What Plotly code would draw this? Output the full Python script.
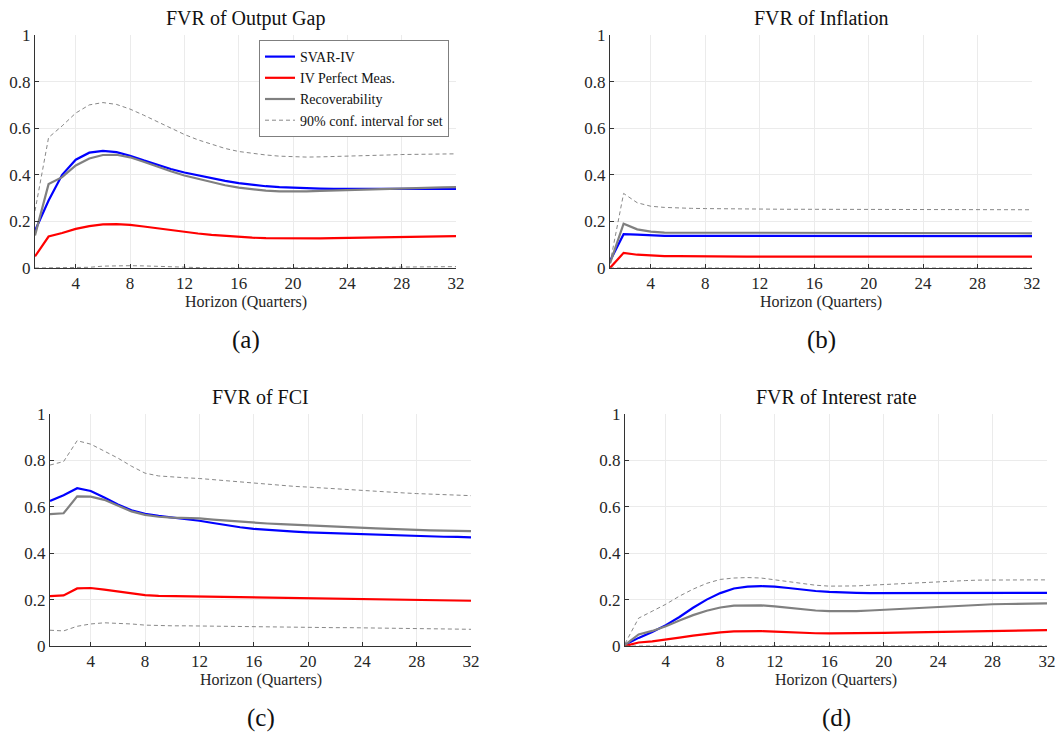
import plotly.graph_objects as go

horizon = list(range(1, 33))
x_ticks = [4, 8, 12, 16, 20, 24, 28, 32]
y_ticks = [0, 0.2, 0.4, 0.6, 0.8, 1]
y_ticktext = ["0", "0.2", "0.4", "0.6", "0.8", "1"]

series_names = ["SVAR-IV", "IV Perfect Meas.", "Recoverability", "90% conf. interval for set"]
panel_titles = ["FVR of Output Gap", "FVR of Inflation", "FVR of FCI", "FVR of Interest rate"]
panel_labels = ["(a)", "(b)", "(c)", "(d)"]
x_title = "Horizon (Quarters)"

# Panel (a) Output gap
a_svar = [0.160, 0.290, 0.400, 0.465, 0.495, 0.503, 0.497, 0.482, 0.462, 0.442, 0.425, 0.410, 0.397, 0.385, 0.374, 0.364,
          0.357, 0.351, 0.347, 0.344, 0.342, 0.341, 0.340, 0.340, 0.340, 0.340, 0.340, 0.340, 0.340, 0.340, 0.340, 0.340]
a_perfect = [0.050, 0.135, 0.150, 0.168, 0.180, 0.187, 0.188, 0.185, 0.178, 0.170, 0.162, 0.155, 0.148, 0.142, 0.137, 0.133,
             0.130, 0.128, 0.127, 0.126, 0.126, 0.127, 0.128, 0.129, 0.130, 0.131, 0.133, 0.134, 0.135, 0.136, 0.136, 0.137]
a_recov = [0.140, 0.360, 0.390, 0.440, 0.470, 0.485, 0.486, 0.475, 0.456, 0.435, 0.415, 0.397, 0.382, 0.368, 0.355, 0.345,
           0.337, 0.332, 0.329, 0.328, 0.329, 0.331, 0.333, 0.335, 0.337, 0.339, 0.341, 0.343, 0.344, 0.345, 0.346, 0.347]
a_upper = [0.245, 0.560, 0.610, 0.665, 0.700, 0.710, 0.702, 0.682, 0.656, 0.628, 0.600, 0.573, 0.550, 0.530, 0.513, 0.500,
           0.492, 0.485, 0.480, 0.477, 0.476, 0.477, 0.478, 0.479, 0.481, 0.483, 0.485, 0.487, 0.488, 0.489, 0.490, 0.490]
a_lower = [0.000, 0.000, 0.000, 0.000, 0.003, 0.008, 0.010, 0.010, 0.009, 0.007, 0.004, 0.002, 0.001, 0.000, 0.000, 0.000,
           0.000, 0.000, 0.000, 0.000, 0.000, 0.000, 0.000, 0.000, 0.000, 0.001, 0.002, 0.004, 0.005, 0.005, 0.006, 0.006]

# Panel (b) Inflation
b_svar = [0.030, 0.145, 0.143, 0.139, 0.138, 0.138, 0.138, 0.137, 0.137, 0.137, 0.137, 0.137, 0.137, 0.137, 0.137, 0.137,
          0.137, 0.137, 0.137, 0.137, 0.137, 0.137, 0.137, 0.137, 0.137, 0.137, 0.137, 0.137, 0.137, 0.137, 0.137, 0.137]
b_perfect = [0.000, 0.065, 0.057, 0.053, 0.051, 0.051, 0.050, 0.050, 0.049, 0.049, 0.049, 0.049, 0.049, 0.049, 0.049, 0.049,
             0.049, 0.049, 0.049, 0.049, 0.049, 0.049, 0.049, 0.049, 0.049, 0.049, 0.049, 0.049, 0.049, 0.049, 0.049, 0.049]
b_recov = [0.020, 0.190, 0.166, 0.156, 0.152, 0.152, 0.152, 0.151, 0.151, 0.150, 0.150, 0.150, 0.150, 0.150, 0.150, 0.150,
           0.150, 0.150, 0.150, 0.150, 0.150, 0.150, 0.150, 0.150, 0.150, 0.150, 0.150, 0.150, 0.150, 0.150, 0.150, 0.149]
b_upper = [0.020, 0.320, 0.280, 0.265, 0.260, 0.257, 0.256, 0.255, 0.254, 0.254, 0.253, 0.253, 0.253, 0.252, 0.252, 0.252,
           0.252, 0.252, 0.251, 0.251, 0.251, 0.251, 0.251, 0.251, 0.251, 0.250, 0.250, 0.250, 0.250, 0.250, 0.250, 0.250]
b_lower = [0.000, 0.000, 0.000, 0.000, 0.000, 0.000, 0.000, 0.000, 0.000, 0.000, 0.000, 0.000, 0.000, 0.000, 0.000, 0.000,
           0.000, 0.000, 0.000, 0.000, 0.000, 0.000, 0.000, 0.000, 0.000, 0.000, 0.000, 0.000, 0.000, 0.000, 0.000, 0.000]

# Panel (c) FCI
c_svar = [0.625, 0.650, 0.680, 0.668, 0.640, 0.610, 0.585, 0.570, 0.561, 0.555, 0.549, 0.540, 0.530, 0.520, 0.512, 0.505,
          0.500, 0.496, 0.493, 0.490, 0.488, 0.485, 0.482, 0.480, 0.478, 0.477, 0.475, 0.474, 0.472, 0.471, 0.470, 0.468]
c_perfect = [0.215, 0.218, 0.248, 0.250, 0.243, 0.234, 0.225, 0.219, 0.216, 0.215, 0.215, 0.215, 0.214, 0.213, 0.211, 0.210,
             0.209, 0.208, 0.207, 0.205, 0.204, 0.203, 0.203, 0.202, 0.201, 0.200, 0.199, 0.198, 0.197, 0.196, 0.196, 0.195]
c_recov = [0.568, 0.572, 0.645, 0.644, 0.630, 0.605, 0.580, 0.565, 0.557, 0.553, 0.552, 0.550, 0.545, 0.540, 0.536, 0.532,
           0.528, 0.525, 0.522, 0.520, 0.517, 0.515, 0.512, 0.510, 0.507, 0.505, 0.502, 0.500, 0.498, 0.497, 0.496, 0.495]
c_upper = [0.780, 0.795, 0.885, 0.870, 0.840, 0.810, 0.775, 0.745, 0.733, 0.728, 0.725, 0.722, 0.717, 0.711, 0.706, 0.700,
           0.696, 0.692, 0.688, 0.685, 0.681, 0.677, 0.673, 0.670, 0.667, 0.664, 0.660, 0.657, 0.655, 0.652, 0.650, 0.648]
c_lower = [0.068, 0.065, 0.085, 0.095, 0.100, 0.098, 0.095, 0.090, 0.087, 0.087, 0.087, 0.086, 0.085, 0.084, 0.084, 0.083,
           0.082, 0.082, 0.081, 0.080, 0.080, 0.079, 0.079, 0.078, 0.077, 0.077, 0.076, 0.075, 0.074, 0.073, 0.073, 0.072]

# Panel (d) Interest rate
d_svar = [0.005, 0.035, 0.060, 0.090, 0.125, 0.165, 0.200, 0.228, 0.248, 0.256, 0.258, 0.256, 0.250, 0.243, 0.237, 0.233,
          0.230, 0.229, 0.228, 0.228, 0.228, 0.228, 0.229, 0.229, 0.229, 0.230, 0.230, 0.230, 0.230, 0.230, 0.229, 0.229]
d_perfect = [0.000, 0.015, 0.020, 0.027, 0.036, 0.045, 0.053, 0.059, 0.063, 0.064, 0.064, 0.062, 0.059, 0.057, 0.055, 0.054,
             0.054, 0.054, 0.055, 0.057, 0.058, 0.059, 0.061, 0.062, 0.063, 0.064, 0.065, 0.066, 0.067, 0.067, 0.068, 0.068]
d_recov = [0.005, 0.050, 0.065, 0.085, 0.110, 0.133, 0.152, 0.166, 0.174, 0.176, 0.175, 0.171, 0.165, 0.158, 0.153, 0.150,
           0.149, 0.150, 0.153, 0.156, 0.160, 0.163, 0.167, 0.170, 0.173, 0.176, 0.178, 0.180, 0.181, 0.182, 0.183, 0.184]
d_upper = [0.010, 0.120, 0.150, 0.180, 0.215, 0.245, 0.270, 0.287, 0.293, 0.295, 0.293, 0.285, 0.276, 0.268, 0.262, 0.258,
           0.257, 0.259, 0.262, 0.265, 0.269, 0.273, 0.276, 0.278, 0.280, 0.282, 0.284, 0.285, 0.285, 0.285, 0.285, 0.285]
d_lower = [0.000, 0.000, 0.000, 0.000, 0.000, 0.000, 0.000, 0.000, 0.000, 0.000, 0.000, 0.000, 0.000, 0.000, 0.000, 0.000,
           0.000, 0.000, 0.000, 0.000, 0.000, 0.000, 0.000, 0.000, 0.000, 0.000, 0.000, 0.000, 0.000, 0.000, 0.000, 0.000]

panels = [
    (a_svar, a_perfect, a_recov, a_upper, a_lower),
    (b_svar, b_perfect, b_recov, b_upper, b_lower),
    (c_svar, c_perfect, c_recov, c_upper, c_lower),
    (d_svar, d_perfect, d_recov, d_upper, d_lower),
]

W, H = 1057, 732
# pixel boxes of each axes: (left, right, top, bottom)
boxes = [(35, 456, 35, 268), (610, 1032, 35, 268), (50, 471, 414, 646), (625, 1047, 414, 646)]

FONT = "Liberation Serif, DejaVu Serif, serif"
BLUE, RED, GRAY, DGRAY = "#0000ff", "#ff0000", "#808080", "#7a7a7a"

fig = go.Figure()
layout = dict(width=W, height=H, margin=dict(l=0, r=0, t=0, b=0, pad=0, autoexpand=False),
              paper_bgcolor="white", plot_bgcolor="white", font=dict(family=FONT, color="#262626"),
              annotations=[])

for i, (svar, perf, recov, up, lo) in enumerate(panels):
    n = "" if i == 0 else str(i + 1)
    xa, ya = "x" + n, "y" + n
    show = i == 0
    fig.add_trace(go.Scatter(x=horizon, y=svar, mode="lines", name=series_names[0], xaxis=xa, yaxis=ya,
                             line=dict(color=BLUE, width=2.2), showlegend=show))
    fig.add_trace(go.Scatter(x=horizon, y=perf, mode="lines", name=series_names[1], xaxis=xa, yaxis=ya,
                             line=dict(color=RED, width=2.2), showlegend=show))
    fig.add_trace(go.Scatter(x=horizon, y=recov, mode="lines", name=series_names[2], xaxis=xa, yaxis=ya,
                             line=dict(color=GRAY, width=2.2), showlegend=show))
    fig.add_trace(go.Scatter(x=horizon, y=up, mode="lines", name=series_names[3], xaxis=xa, yaxis=ya,
                             line=dict(color=DGRAY, width=0.9, dash="4px,3px"), showlegend=show))
    fig.add_trace(go.Scatter(x=horizon, y=lo, mode="lines", name=series_names[3], xaxis=xa, yaxis=ya,
                             line=dict(color=DGRAY, width=0.9, dash="4px,3px"), showlegend=False))
    l, r, t, b = boxes[i]
    common = dict(showgrid=True, gridcolor="#ebebeb", gridwidth=1, zeroline=False, showline=True,
                  linecolor="#333333", linewidth=1, ticks="inside", ticklen=4, tickcolor="#333333",
                  automargin=False, tickfont=dict(family=FONT, size=17, color="#262626"))
    layout["xaxis" + n] = dict(domain=[l / W, r / W], anchor=ya, range=[1, 32], tickvals=x_ticks,
                               ticktext=[str(v) for v in x_ticks], **common)
    layout["yaxis" + n] = dict(domain=[1 - b / H, 1 - t / H], anchor=xa, range=[0, 1], tickvals=y_ticks,
                               ticktext=y_ticktext, **common)
    cx = (l + r) / 2 / W
    layout["annotations"] += [
        dict(text=panel_titles[i], x=cx, y=1 - (t - 17) / H, xref="paper", yref="paper", showarrow=False,
             font=dict(family=FONT, size=20, color="#111111"), xanchor="center", yanchor="middle"),
        dict(text=x_title, x=cx, y=1 - (b + 34) / H, xref="paper", yref="paper", showarrow=False,
             font=dict(family=FONT, size=16, color="#262626"), xanchor="center", yanchor="middle"),
        dict(text=panel_labels[i], x=cx, y=1 - (b + 72) / H, xref="paper", yref="paper", showarrow=False,
             font=dict(family=FONT, size=25, color="#111111"), xanchor="center", yanchor="middle"),
    ]

layout["legend"] = dict(x=449 / W, y=1 - 40 / H, xanchor="right", yanchor="top", bgcolor="white",
                        bordercolor="#7f7f7f", borderwidth=1, font=dict(family=FONT, size=14, color="#111111"),
                        tracegroupgap=0, itemwidth=30)
fig.update_layout(**layout)
fig.write_html("out.html", config={"displayModeBar": False},
               post_script="document.body.style.margin='0';document.body.style.padding='0';"
                           "document.documentElement.style.overflow='hidden';"
                           "var d=document.getElementById('{plot_id}');d.style.position='fixed';"
                           "d.style.left='0px';d.style.top='0px';")
